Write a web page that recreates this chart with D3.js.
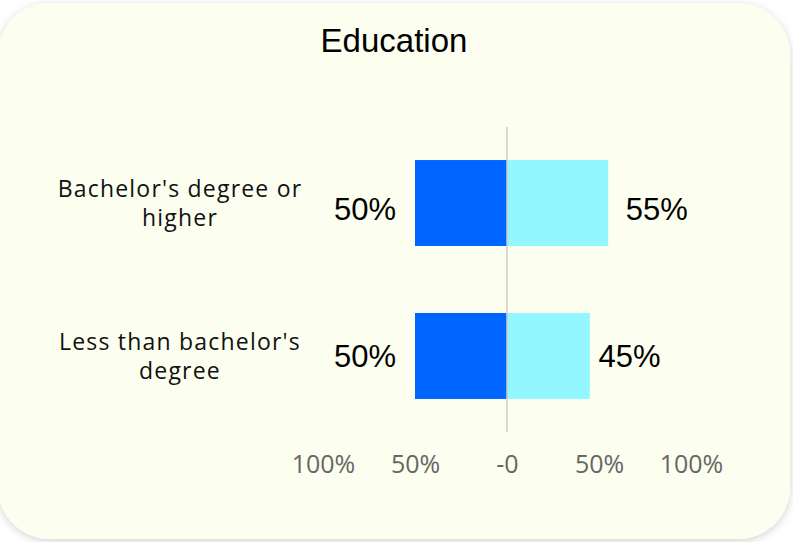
<!DOCTYPE html>
<html><head><meta charset="utf-8">
<script src="https://cdn.jsdelivr.net/npm/d3@7"></script>
<style>
html,body{margin:0;padding:0;background:#ffffff;}
svg{display:block;}
</style></head>
<body>
<svg id="c" width="793" height="542"></svg>
<script>
const categories = ["Bachelor's degree or higher", "Less than bachelor's degree"];
const categoryLines = [["Bachelor's degree or", "higher"], ["Less than bachelor's", "degree"]];
const leftValues = [50, 50];
const rightValues = [55, 45];
const tickValues = [-100, -50, 0, 50, 100];
const tickLabels = ["100%", "50%", "-0", "50%", "100%"];
const title = "Education";

const svg = d3.select("#c");
const defs = svg.append("defs");
const f = defs.append("filter").attr("id","sh").attr("x","-10%").attr("y","-10%").attr("width","120%").attr("height","120%");
f.append("feDropShadow").attr("dx",0).attr("dy",2).attr("stdDeviation",4).attr("flood-color","#000").attr("flood-opacity",0.18);

svg.append("rect").attr("x",-2).attr("y",3).attr("width",792).attr("height",536)
  .attr("rx",52).attr("ry",52).attr("fill","#fcffef").attr("filter","url(#sh)");

svg.append("text").attr("x",394).attr("y",52).attr("text-anchor","middle")
  .attr("font-family","'Liberation Sans', Arial, sans-serif").attr("font-size",33)
  .attr("fill","#000").text(title);

const x = d3.scaleLinear().domain([-100,100]).range([323,691]);
const y = d3.scaleBand().domain(categories).range([127,432]).paddingInner(0.438).paddingOuter(0.216);

// axis labels
const axis = d3.axisBottom(x).tickValues(tickValues).tickFormat((d,i)=>tickLabels[i]).tickSize(0).tickPadding(0);
const ag = svg.append("g").attr("transform","translate(0,473)").call(axis);
ag.select(".domain").remove();
ag.selectAll("text").attr("font-family","'Open Sans', 'Noto Sans', sans-serif").attr("font-size",25)
  .attr("fill","#666").attr("dy","0").attr("y",0);

// bars
const g = svg.append("g");
g.selectAll(".lb").data(categories).join("rect").attr("class","lb")
  .attr("x",(d,i)=>x(-leftValues[i])).attr("width",(d,i)=>x(0)-x(-leftValues[i]))
  .attr("y",d=>y(d)).attr("height",y.bandwidth()).attr("fill","#0066ff");
g.selectAll(".rb").data(categories).join("rect").attr("class","rb")
  .attr("x",x(0)).attr("width",(d,i)=>x(rightValues[i])-x(0))
  .attr("y",d=>y(d)).attr("height",y.bandwidth()).attr("fill","#92f7ff");

// zero line
svg.append("line").attr("x1",x(0)).attr("x2",x(0)).attr("y1",127).attr("y2",432)
  .attr("stroke","#cccccc").attr("stroke-width",1.5);

// value labels
const vfont = "'Liberation Sans', Arial, sans-serif";
const dyRow = [6, 0];
g.selectAll(".lv").data(categories).join("text").attr("class","lv")
  .attr("x",x(-leftValues[0]) - 19).attr("y",(d,i)=>y(d)+y.bandwidth()/2 + dyRow[i])
  .attr("dy","0.35em").attr("text-anchor","end").attr("font-family",vfont).attr("font-size",31)
  .attr("fill","#000").text((d,i)=>leftValues[i]+"%");
g.selectAll(".rv").data(categories).join("text").attr("class","rv")
  .attr("x",(d,i)=>x(rightValues[i]*1.48)).attr("y",(d,i)=>y(d)+y.bandwidth()/2 + dyRow[i])
  .attr("dy","0.35em").attr("text-anchor","middle").attr("font-family",vfont).attr("font-size",31)
  .attr("fill","#000").text((d,i)=>rightValues[i]+"%");

// category labels
const cg = svg.append("g");
categories.forEach((c,i)=>{
  const cy = y(c)+y.bandwidth()/2;
  const t = cg.append("text").attr("text-anchor","middle").attr("font-family","'Open Sans', 'Noto Sans', sans-serif")
    .attr("font-size",23).attr("fill","#111").attr("letter-spacing",1.2);
  categoryLines[i].forEach((ln,j)=>{
    t.append("tspan").attr("x",180).attr("y", cy - 6 + j*29).text(ln);
  });
});
</script>
</body></html>
